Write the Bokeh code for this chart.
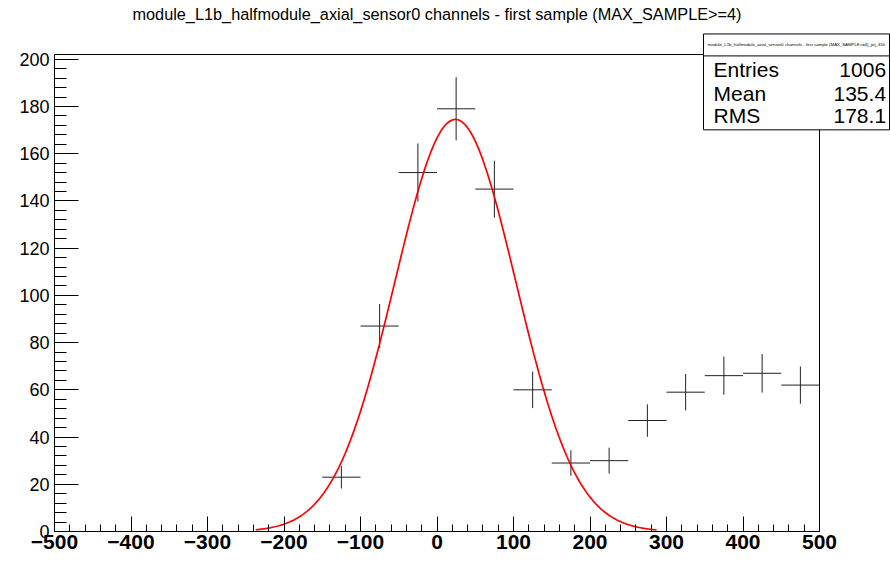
import numpy as np
from bokeh.plotting import figure
from bokeh.models import Range1d, SingleIntervalTicker
from bokeh.core.properties import value
from bokeh.embed import file_html
from bokeh.resources import INLINE

# ---- data ----
bin_centers = [-125, -75, -25, 25, 75, 125, 175, 225, 275, 325, 375, 425, 475]
counts = [23, 87, 152, 179, 145, 60, 29, 30, 47, 59, 66, 67, 62]
bin_width = 50
errors = [float(np.sqrt(c)) for c in counts]

# Gaussian fit parameters
fit_amp = 174.5
fit_mean = 24.0
fit_sigma = 79.0
fit_range = (-237.0, 287.0)

title_text = "module_L1b_halfmodule_axial_sensor0 channels - first sample (MAX_SAMPLE>=4)"
stats_title = "module_L1b_halfmodule_axial_sensor0 channels - first sample (MAX_SAMPLE>=4)_prj_450"
stats_names = ["Entries", "Mean", "RMS"]
stats_values = ["1006", "135.4", "178.1"]

x_ticks_interval = 100
y_ticks_interval = 20
x_min, x_max = -500, 500
y_min, y_max = 0, 202

FONT = "Liberation Sans"

p = figure(width=890, height=561, x_range=Range1d(x_min, x_max), y_range=Range1d(y_min, y_max),
           output_backend="svg", toolbar_location=None,
           min_border_left=54, min_border_right=71, min_border_top=54, min_border_bottom=30)
p.background_fill_color = "white"
p.border_fill_color = "white"
p.outline_line_color = None
p.xgrid.visible = False
p.ygrid.visible = False

xa = p.xaxis[0]
xa.ticker = SingleIntervalTicker(interval=x_ticks_interval, num_minor_ticks=5)
xa.major_tick_in = 15
xa.major_tick_out = 0
xa.minor_tick_in = 7
xa.minor_tick_out = 0
xa.major_tick_line_color = "black"
xa.minor_tick_line_color = "black"
xa.axis_line_color = "black"
xa.major_label_text_font = FONT
xa.major_label_text_font_style = "bold"
xa.major_label_text_font_size = "21px"
xa.major_label_text_color = "black"
xa.major_label_standoff = 3

ya = p.yaxis[0]
ya.ticker = SingleIntervalTicker(interval=y_ticks_interval, num_minor_ticks=5)
ya.major_tick_in = 24
ya.major_tick_out = 0
ya.minor_tick_in = 12
ya.minor_tick_out = 0
ya.major_tick_line_color = "black"
ya.minor_tick_line_color = "black"
ya.axis_line_color = "black"
ya.major_label_text_font = FONT
ya.major_label_text_font_size = "18px"
ya.major_label_text_color = "black"
ya.major_label_standoff = 5

# ---- histogram markers ----
xc = np.array(bin_centers, dtype=float)
yc = np.array(counts, dtype=float)
ye = np.array(errors, dtype=float)
p.segment(x0=xc - bin_width / 2, x1=xc + bin_width / 2, y0=yc, y1=yc,
          line_color="#222222", line_width=1)
p.segment(x0=xc, x1=xc, y0=yc - ye, y1=yc + ye, line_color="#222222", line_width=1)

# ---- fit curve ----
fx = np.linspace(fit_range[0], fit_range[1], 400)
fy = fit_amp * np.exp(-0.5 * ((fx - fit_mean) / fit_sigma) ** 2)
p.line(fx, fy, line_color="red", line_width=1.7)

# ---- frame top and right edges (drawn below the stats box) ----
p.segment(x0=[x_min, x_max], x1=[x_max, x_max], y0=[y_max, y_min], y1=[y_max, y_max],
          line_color="black", line_width=1, level="overlay")

# ---- title (placed above the frame, in data units) ----
p.text(x=[0], y=[219.3], text=[title_text], text_font=value(FONT), text_font_size="16.3px",
       text_align="center", text_baseline="middle", text_color="black", level="overlay")

# ---- stats box (data units, extends outside the frame) ----
box_left, box_right = 348.4, 591.5
box_top, box_bottom = 210.7, 170.1
box_sep = 201.4
p.quad(left=[box_left], right=[box_right], top=[box_top], bottom=[box_bottom],
       fill_color="white", fill_alpha=1.0, line_color="black", line_width=1, level="overlay")
p.segment(x0=[box_left], x1=[box_right], y0=[box_sep], y1=[box_sep], line_color="black",
          line_width=1, level="overlay")
p.text(x=[(box_left + box_right) / 2], y=[(box_top + box_sep) / 2], text=[stats_title],
       text_font=value(FONT), text_font_size="4.3px", text_align="center",
       text_baseline="middle", text_color="black", level="overlay")
row_y = [195.5, 185.3, 176.0]
p.text(x=[361.5] * 3, y=row_y, text=stats_names, text_font=value(FONT), text_font_size="21px",
       text_align="left", text_baseline="middle", text_color="black", level="overlay")
p.text(x=[587.0] * 3, y=row_y, text=stats_values, text_font=value(FONT), text_font_size="21px",
       text_align="right", text_baseline="middle", text_color="black", level="overlay")

open("out.html", "w").write(file_html(p, INLINE))
